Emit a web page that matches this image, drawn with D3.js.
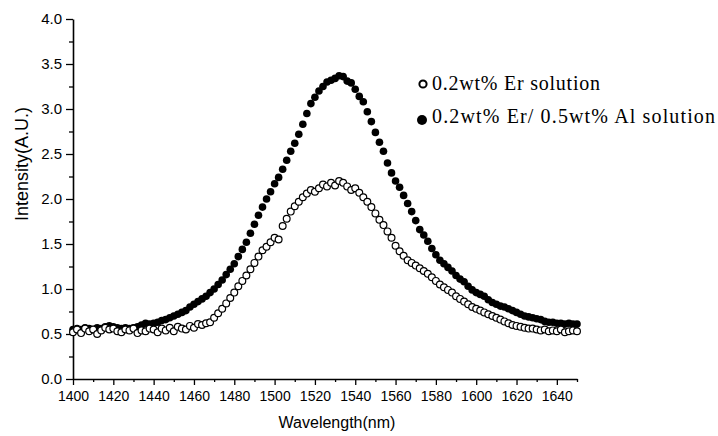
<!DOCTYPE html>
<html>
<head>
<meta charset="utf-8">
<title>Er emission</title>
<script src="https://cdn.jsdelivr.net/npm/d3@7"></script>
<style>
  body { margin: 0; background: #fff; }
  svg { display: block; }
</style>
</head>
<body>
<script>

// wavelength grid of the spectrometer (nm), one point every 2 nm
var wavelengths = d3.range(1400, 1651, 2);

// 0.2wt% Er solution (open circles)
var erOnly = [
  0.52,0.55,0.51,0.56,0.53,0.55,0.50,0.54,0.57,0.55,
  0.56,0.53,0.52,0.55,0.54,0.56,0.51,0.54,0.53,0.56,
  0.55,0.52,0.56,0.54,0.57,0.53,0.58,0.56,0.55,0.59,
  0.57,0.61,0.60,0.62,0.63,0.68,0.73,0.78,0.84,0.90,
  0.96,1.03,1.09,1.15,1.22,1.29,1.36,1.43,1.47,1.52,
  1.57,1.55,1.70,1.78,1.86,1.92,1.97,2.02,2.06,2.10,
  2.08,2.12,2.16,2.14,2.18,2.15,2.20,2.18,2.14,2.10,
  2.12,2.07,2.02,1.97,1.91,1.84,1.77,1.71,1.64,1.57,
  1.48,1.42,1.37,1.32,1.29,1.26,1.23,1.20,1.17,1.13,
  1.09,1.05,1.02,0.99,0.96,0.92,0.89,0.86,0.83,0.80,
  0.78,0.76,0.74,0.72,0.70,0.68,0.66,0.64,0.62,0.60,
  0.59,0.58,0.57,0.56,0.56,0.55,0.54,0.55,0.53,0.54,
  0.53,0.55,0.52,0.53,0.54,0.53
];

// 0.2wt% Er / 0.5wt% Al solution (filled circles)
var erAl = [
  0.55,0.56,0.55,0.57,0.56,0.55,0.57,0.56,0.58,0.59,
  0.58,0.57,0.56,0.57,0.56,0.57,0.58,0.60,0.62,0.61,
  0.62,0.63,0.65,0.66,0.68,0.70,0.72,0.74,0.76,0.80,
  0.83,0.86,0.89,0.92,0.96,1.00,1.05,1.10,1.16,1.22,
  1.28,1.36,1.44,1.52,1.62,1.72,1.82,1.91,2.00,2.08,
  2.17,2.24,2.33,2.43,2.53,2.62,2.72,2.83,2.95,3.06,
  3.13,3.20,3.25,3.30,3.32,3.34,3.37,3.36,3.31,3.29,
  3.22,3.14,3.08,2.97,2.86,2.74,2.63,2.53,2.40,2.29,
  2.20,2.13,2.04,1.95,1.86,1.76,1.66,1.60,1.53,1.45,
  1.38,1.32,1.28,1.24,1.20,1.15,1.11,1.08,1.03,0.99,
  0.96,0.94,0.92,0.88,0.85,0.83,0.81,0.80,0.78,0.76,
  0.74,0.72,0.70,0.69,0.68,0.67,0.66,0.64,0.63,0.63,
  0.62,0.62,0.61,0.62,0.61,0.61
];

var xTicks = [1400,1420,1440,1460,1480,1500,1520,1540,1560,1580,1600,1620,1640];
var xMinor = [1410,1430,1450,1470,1490,1510,1530,1550,1570,1590,1610,1630,1650];
var yTicks = [0,0.5,1,1.5,2,2.5,3,3.5,4];
var yMinor = [0.25,0.75,1.25,1.75,2.25,2.75,3.25,3.75];

var legendLabels = ["0.2wt% Er  solution", "0.2wt% Er/ 0.5wt% Al solution"];

var W = 718, H = 436;
var margin = {top: 19, right: 141, bottom: 57, left: 73};

var x = d3.scaleLinear().domain([1400, 1650]).range([margin.left, W - margin.right]);
var y = d3.scaleLinear().domain([0, 4]).range([H - margin.bottom, margin.top]);

var svg = d3.select("body").append("svg")
    .attr("width", W)
    .attr("height", H);

// minor ticks first, majors on top
svg.append("g")
    .attr("transform", "translate(0," + y(0) + ")")
    .call(d3.axisBottom(x).tickValues(xMinor).tickSize(3).tickFormat(""))
    .call(function(g){ g.select(".domain").remove(); });
svg.append("g")
    .attr("transform", "translate(" + x(1400) + ",0)")
    .call(d3.axisLeft(y).tickValues(yMinor).tickSize(4).tickFormat(""))
    .call(function(g){ g.select(".domain").remove(); });

var xAxis = svg.append("g")
    .attr("transform", "translate(0," + y(0) + ")")
    .call(d3.axisBottom(x).tickValues(xTicks).tickSize(6).tickSizeOuter(0).tickPadding(6)
      .tickFormat(d3.format("d")));
var yAxis = svg.append("g")
    .attr("transform", "translate(" + x(1400) + ",0)")
    .call(d3.axisLeft(y).tickValues(yTicks).tickSize(7).tickSizeOuter(0).tickPadding(4)
      .tickFormat(d3.format(".1f")));

svg.selectAll(".domain").attr("stroke-width", 1.6);
svg.selectAll(".tick line").attr("stroke-width", 1.3);
svg.selectAll(".tick text")
    .attr("font-family", "Liberation Sans, Arial, sans-serif")
    .attr("fill", "#000");
xAxis.selectAll(".tick text").attr("font-size", 14);
yAxis.selectAll(".tick text").attr("font-size", 15);

// data
var pts = wavelengths.map(function(w, i){ return {w: w, a: erOnly[i], b: erAl[i]}; });

svg.append("g").selectAll("circle")
    .data(pts)
  .enter().append("circle")
    .attr("cx", function(d){ return x(d.w); })
    .attr("cy", function(d){ return y(d.b); })
    .attr("r", 3.8)
    .attr("fill", "#000");

svg.append("g").selectAll("circle")
    .data(pts)
  .enter().append("circle")
    .attr("cx", function(d){ return x(d.w); })
    .attr("cy", function(d){ return y(d.a); })
    .attr("r", 3.4)
    .attr("fill", "#fff")
    .attr("stroke", "#000")
    .attr("stroke-width", 1.2);

// axis titles
svg.append("text")
    .attr("x", 337)
    .attr("y", 428)
    .attr("text-anchor", "middle")
    .attr("font-family", "Liberation Sans, Arial, sans-serif")
    .attr("font-size", 16)
    .text("Wavelength(nm)");

svg.append("text")
    .attr("transform", "translate(28,164) rotate(-90)")
    .attr("text-anchor", "middle")
    .attr("font-family", "Liberation Sans, Arial, sans-serif")
    .attr("font-size", 18)
    .text("Intensity(A.U.)");

// legend
var leg = svg.append("g");
leg.append("circle").attr("cx", 423).attr("cy", 84).attr("r", 3.6)
    .attr("fill", "#fff").attr("stroke", "#000").attr("stroke-width", 2);
leg.append("circle").attr("cx", 422).attr("cy", 120).attr("r", 5)
    .attr("fill", "#000");
leg.selectAll("text.lab")
    .data(legendLabels)
  .enter().append("text")
    .attr("class", "lab")
    .attr("x", 432)
    .attr("y", function(d, i){ return 90 + i * 33; })
    .attr("font-family", "Liberation Serif, Times New Roman, serif")
    .attr("font-size", 20)
    .attr("textLength", function(d, i){ return i ? 283 : 168; })
    .attr("lengthAdjust", "spacing")
    .text(function(d){ return d; });

</script>
</body>
</html>
